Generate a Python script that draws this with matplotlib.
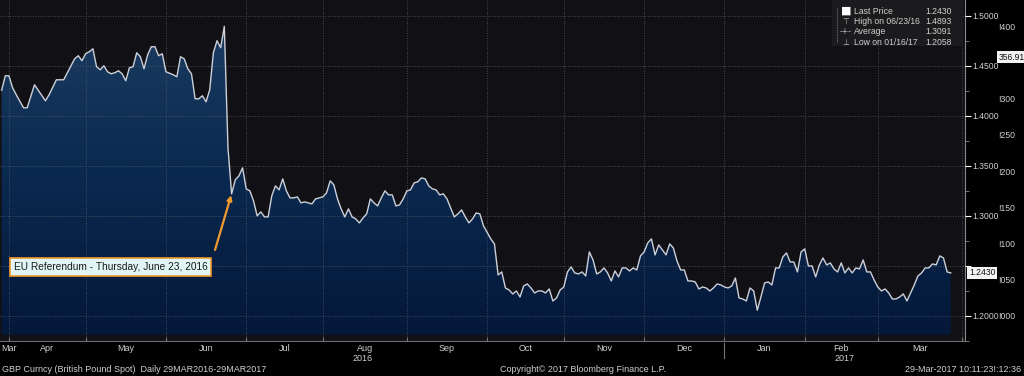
import numpy as np
import pandas as pd
import matplotlib
matplotlib.use("Agg")
import matplotlib.pyplot as plt
from matplotlib.colors import LinearSegmentedColormap
from matplotlib.patches import Rectangle

plt.rcParams['font.family'] = ['Liberation Sans', 'DejaVu Sans']

# trading-day offsets from 29 Mar 2016 and GBP spot closes
day = ([1, 2, 3, 4, 5, 7, 8, 10, 13, 14, 16, 18, 21, 22, 23, 24, 25, 26, 27, 28,
        29, 30, 31, 32, 33, 34, 35, 36, 37, 38, 39, 40, 41, 42, 43, 44, 45, 46, 48, 49,
        50, 51, 52, 53, 54, 55, 56, 57, 58, 59, 60, 61, 62]
       + list(range(63, 88)) + list(range(89, 134)) + list(range(135, 262)))

price = [1.4255, 1.440, 1.440, 1.428, 1.421, 1.408, 1.408, 1.431, 1.415, 1.421,
         1.436, 1.436, 1.457, 1.460, 1.455, 1.462, 1.464, 1.467, 1.449, 1.446,
         1.450, 1.444, 1.442, 1.443, 1.445, 1.442, 1.435, 1.448, 1.449, 1.463,
         1.459, 1.447, 1.461, 1.469, 1.469, 1.460, 1.462, 1.444, 1.441, 1.439,
         1.459, 1.457, 1.447, 1.442, 1.417, 1.417, 1.420, 1.414, 1.426, 1.463,
         1.475, 1.468, 1.4893,
         1.368, 1.322, 1.336, 1.340, 1.348, 1.327, 1.325, 1.315, 1.300, 1.304,
         1.299, 1.299, 1.320, 1.330, 1.326, 1.337, 1.325, 1.318, 1.318, 1.319,
         1.313, 1.314, 1.313, 1.312, 1.317,
         1.319, 1.323, 1.335, 1.331, 1.317, 1.307, 1.299, 1.307, 1.299, 1.297,
         1.293, 1.298, 1.302, 1.317, 1.313, 1.310, 1.318, 1.325, 1.321, 1.321,
         1.310, 1.311, 1.317, 1.325, 1.326, 1.333, 1.334, 1.338, 1.337, 1.330,
         1.327, 1.326, 1.321, 1.322, 1.317, 1.308, 1.299, 1.302, 1.306, 1.299,
         1.293, 1.297, 1.303, 1.302, 1.290,
         1.277, 1.272, 1.241, 1.244, 1.228, 1.226, 1.222, 1.225, 1.219, 1.230,
         1.232, 1.228, 1.223, 1.225, 1.225, 1.223, 1.227, 1.215, 1.218, 1.226,
         1.229, 1.244, 1.249, 1.243, 1.242, 1.244, 1.240, 1.264, 1.256, 1.242,
         1.244, 1.248, 1.243, 1.235, 1.245, 1.239, 1.248, 1.248, 1.245, 1.248,
         1.246, 1.260, 1.264, 1.273, 1.277, 1.261, 1.271, 1.266, 1.261, 1.272,
         1.268, 1.255, 1.246, 1.246, 1.235, 1.235, 1.234, 1.227, 1.229, 1.228,
         1.225, 1.228, 1.232, 1.231, 1.229, 1.228, 1.230, 1.238, 1.218, 1.217,
         1.215, 1.228, 1.225, 1.2058, 1.219, 1.233, 1.234, 1.231, 1.248, 1.248,
         1.259, 1.263, 1.254, 1.254, 1.244, 1.264, 1.267, 1.250, 1.250, 1.239,
         1.251, 1.258, 1.251, 1.253, 1.247, 1.244, 1.253, 1.243, 1.248, 1.243,
         1.248, 1.247, 1.256, 1.244, 1.244, 1.236, 1.229, 1.225, 1.227, 1.223,
         1.217, 1.217, 1.219, 1.222, 1.215, 1.223, 1.231, 1.240, 1.243, 1.248,
         1.248, 1.252, 1.251, 1.260, 1.258, 1.244, 1.2430]

legend_names = ["Last Price", "High on 06/23/16", "Average", "Low on 01/16/17"]
legend_values = ["1.2430", "1.4893", "1.3091", "1.2058"]
legend_marks = ["\u25a0", "\u22a4", "-+-", "\u22a5"]

y_ticks = [1.20, 1.25, 1.30, 1.35, 1.40, 1.45, 1.50]
other_ticks = [1000, 1050, 1100, 1150, 1200, 1250, 1300, 1400]
other_last = 1356.91

BG = '#111115'
TXT = '#cfcfcf'
ORANGE = '#ee9a30'
FS = 6.2

x = np.array(day, dtype=float)
y = np.array(price)

# month boundaries on a trading-day axis
cal = pd.bdate_range('2016-03-29', '2017-04-30')
per = cal.to_period('M')
starts = [i for i in range(1, len(cal)) if per[i] != per[i - 1]]
xlo, xhi = 0.55, 264.9
ylo, yhi = 1.1814, 1.5157

fig = plt.figure(figsize=(10.24, 3.76), dpi=100, facecolor='black')
ax = fig.add_axes([0, 35 / 376, 965 / 1024, 341 / 376])
ax.set_facecolor(BG)

# second (clipped) scale further right -- made first so it doesn't move ax's ticks
ax2 = ax.twinx()
ax2.set_ylim(965.5, 1435.9)
ax2.set_yticks(other_ticks)
ax2.set_yticklabels(["!" + f"{v % 1000:03d}" for v in other_ticks])
ax2.tick_params(axis='y', length=0, pad=24, labelsize=FS, labelcolor=TXT)
for s in ax2.spines.values():
    s.set_visible(False)
ax2.annotate(f"{other_last:.2f}"[1:], xy=(1, other_last), xycoords=('axes fraction', 'data'),
             xytext=(24, 0), textcoords='offset points', ha='left', va='center',
             fontsize=FS, color='#111111', zorder=10, annotation_clip=False,
             bbox=dict(boxstyle='square,pad=0.15', fc='#f2f2f2', ec='none'))

# gradient fill under the line
cmap = LinearSegmentedColormap.from_list('fill', ['#04183a', '#0b2a50', '#1e3e64'])
grad = np.linspace(0, 1, 256).reshape(-1, 1)
im = ax.imshow(grad, extent=[xlo, xhi, ylo, yhi], origin='lower', aspect='auto',
               cmap=cmap, zorder=1, interpolation='bilinear')
poly = ax.fill_between(x, y, ylo, color='none', lw=0)
im.set_clip_path(poly.get_paths()[0], transform=ax.transData)
ax.plot(x, y, color='#cdd0d8', lw=1.0, zorder=3)

ax.set_xlim(xlo, xhi)
ax.set_ylim(ylo, yhi)

# x axis: gridlines at month starts, labels mid-month
ax.set_xticks(starts)
ax.set_xticklabels([])
bounds = [xlo] + starts
mids, names = [], []
for a, b in zip(bounds[:-1], bounds[1:]):
    mids.append((a + b) / 2)
    names.append(cal[int(np.ceil(a))].strftime('%b'))
mids[0] = xlo + 2.6
ax.set_xticks(mids, minor=True)
ax.set_xticklabels(names, minor=True)
ax.tick_params(axis='x', which='major', direction='in', length=3, color='#777777')
ax.tick_params(axis='x', which='minor', length=0, pad=2, labelsize=6.5, labelcolor=TXT)

jan = [s for s in starts if cal[s].month == 1][0]
for yr, xm in [("2016", (xlo + jan) / 2), ("2017", (jan + xhi) / 2)]:
    ax.annotate(yr, xy=(xm, 0), xycoords=('data', 'axes fraction'), xytext=(0, -12.5),
                textcoords='offset points', ha='center', va='center', fontsize=6.5, color=TXT,
                annotation_clip=False)
ax.plot([jan, jan], [-2 / 341, -17 / 341], transform=ax.get_xaxis_transform(),
        color='#777777', lw=0.8, clip_on=False)

# y axis on the right
ax.yaxis.tick_right()
ax.yaxis.set_label_position('right')
ax.set_yticks(y_ticks)
ax.set_yticklabels(["" if abs(v - 1.25) < 1e-9 else f"{v:.4f}" for v in y_ticks])
ax.set_yticks([v + 0.025 for v in y_ticks[:-1]] + [1.175], minor=True)
ax.tick_params(axis='y', which='major', length=4, width=0.8, color='white', pad=1.2,
               labelsize=FS, labelcolor=TXT)
ax.tick_params(axis='y', which='minor', length=3, width=0.6, color='#888888')

ax.grid(True, which='major', color='#5a5a66', lw=0.6, ls=(0, (1, 2)))
ax.set_axisbelow(False)
for s in ['left', 'top']:
    ax.spines[s].set_visible(False)
ax.spines['right'].set_color('#8a8a8a')
ax.spines['bottom'].set_color('#6a6a6a')

# last price tag
ax.annotate(legend_values[0], xy=(1, y[-1]), xycoords=('axes fraction', 'data'),
            xytext=(3, 0), textcoords='offset points', ha='left', va='center',
            fontsize=FS, color='#111111', zorder=10, annotation_clip=False,
            bbox=dict(boxstyle='square,pad=0.2', fc='#f4f4f4', ec='none'))

# event annotation
k = int(np.argmax(y)) + 2
ax.annotate('', xy=(x[k], y[k]), xytext=(215 / 1024, 1 - 250 / 376),
            textcoords='figure fraction', zorder=6,
            arrowprops=dict(arrowstyle='-|>', color=ORANGE, lw=1.6, mutation_scale=7,
                            shrinkA=0, shrinkB=1))
fig.text(14 / 1024, 1 - 267 / 376, "EU Referendum - Thursday, June 23, 2016", fontsize=7.3,
         color='#1a1a1a', ha='left', va='center', zorder=7,
         bbox=dict(boxstyle='square,pad=0.35', fc='#e2f5f5', ec=ORANGE, lw=1.2))

# legend panel
fig.add_artist(Rectangle((832 / 1024, 1 - 46 / 376), 131 / 1024, 46 / 376,
                         transform=fig.transFigure, fc='#1b1b1e', ec='none', zorder=5))
fig.add_artist(plt.Line2D([837 / 1024, 837 / 1024], [1 - 8 / 376, 1 - 42 / 376],
                          transform=fig.transFigure, color='#888888', lw=0.6,
                          ls=(0, (1, 1)), zorder=6))
for i, (m, n, v) in enumerate(zip(legend_marks, legend_names, legend_values)):
    yy = 1 - (11 + i * 10.5) / 376
    fig.text(846 / 1024, yy, m, fontsize=5.5 if i else 8, color='white' if i == 0 else '#bbbbbb',
             ha='center', va='center', zorder=7, family='DejaVu Sans')
    fig.text(854 / 1024, yy, n, fontsize=FS, color=TXT, ha='left', va='center', zorder=7)
    fig.text(952 / 1024, yy, v, fontsize=FS, color=TXT, ha='right', va='center', zorder=7)

# footer
fig.text(2 / 1024, 1 - 369 / 376, "GBP Curncy (British Pound Spot)  Daily 29MAR2016-29MAR2017",
         fontsize=6.5, color=TXT, ha='left', va='center')
fig.text(500 / 1024, 1 - 369 / 376, "Copyright\u00a9 2017 Bloomberg Finance L.P.",
         fontsize=6.5, color=TXT, ha='left', va='center')
fig.text(1021 / 1024, 1 - 369 / 376, "29-Mar-2017 10:11:23!:12:36",
         fontsize=6.5, color=TXT, ha='right', va='center')

fig.savefig('out.png', dpi=100, facecolor='black')
